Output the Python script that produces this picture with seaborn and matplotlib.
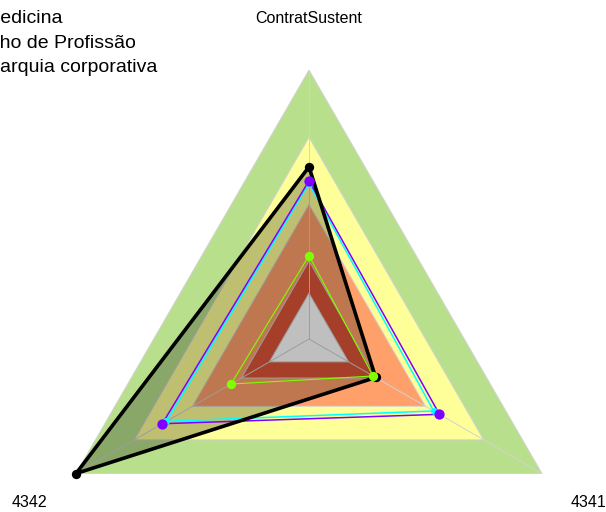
import numpy as np
import pandas as pd
import matplotlib
matplotlib.use("Agg")
import matplotlib.pyplot as plt
import matplotlib.transforms as mtransforms
import seaborn as sns

# ========= Data =========
categories = ["ContratSustent", "4341", "4342"]

# concentric background bands (0-100 scale)
band_levels = [17, 29, 50, 75, 100]
band_colors = ["#FFFFFF", "#DD5538", "#FFA06A", "#FFFF99", "#B8E08C"]

black_vals = [64, 28.6, 100]
purple_vals = [58.8, 56, 63]
cyan_vals = [57.8, 53.5, 61.2]
green_vals = [31, 27.5, 33.5]

legend_labels = ["Medicina", "Desempenho de Profissão", "Hierarquia corporativa"]

# ========= Style =========
sns.set_theme(style="white")
plt.rcParams["font.family"] = ["Liberation Sans", "DejaVu Sans"]

W, H = 606, 512
fig = plt.figure(figsize=(W / 100, H / 100), dpi=100)
# polar axes centred at pixel (309, 339 from top), radius 269 px
cx, cy, R = 309, H - 339, 269
ax = fig.add_axes([(cx - R) / W, (cy - R) / H, 2 * R / W, 2 * R / H], projection="polar")
ax.set_theta_zero_location("N")
ax.set_theta_direction(-1)
ax.set_ylim(0, 100)
ax.set_axis_off()

theta = np.linspace(0, 2 * np.pi, len(categories), endpoint=False)
closed = np.append(theta, theta[0])


def close(vals):
    return np.append(vals, vals[0])


# bands, largest first
for lvl, col in zip(band_levels[::-1], band_colors[::-1]):
    ax.fill(closed, [lvl] * len(closed), color=col, lw=0, zorder=0)

# grid
grid_col = "#d2d2d2"
for lvl in band_levels:
    ax.plot(closed, [lvl] * len(closed), color=grid_col, lw=0.7, zorder=1)
for t in theta:
    ax.plot([t, t], [0, 100], color=grid_col, lw=0.7, zorder=1)

# black series fill
ax.fill(closed, close(black_vals), color="black", alpha=0.25, lw=0, zorder=2)

series = [
    ("cyan", cyan_vals, "#00FFFF", 1.1, 25),
    ("purple", purple_vals, "#8000FF", 1.1, 55),
    ("black", black_vals, "black", 2.6, 45),
    ("green", green_vals, "#80FF00", 0.8, 45),
]
for i, (name, vals, col, lw, s) in enumerate(series):
    ax.plot(closed, close(vals), color=col, lw=lw, zorder=3 + i)

for i, (name, vals, col, lw, s) in enumerate(series):
    df = pd.DataFrame({"theta": theta, "value": vals})
    sns.scatterplot(data=df, x="theta", y="value", ax=ax, color=col, s=s,
                    linewidth=0, zorder=10 + i, clip_on=False)

# axis labels
shift = mtransforms.ScaledTranslation(0, -2 / 100, fig.dpi_scale_trans)
for t, cat in zip(theta, categories):
    ax.text(t, 120, cat, ha="center", va="center", fontsize=11.5, color="black",
            clip_on=False, transform=ax.transData + shift)

# legend (cut off at the left edge)
legend_right = [62.5, 135.5, 157.5]
legend_base = [23, 48, 72]
for lab, xr, yb in zip(legend_labels, legend_right, legend_base):
    fig.text(xr / W, (H - yb) / H, lab, ha="right", va="baseline", fontsize=14, color="black")

fig.savefig("out.png", dpi=100)
